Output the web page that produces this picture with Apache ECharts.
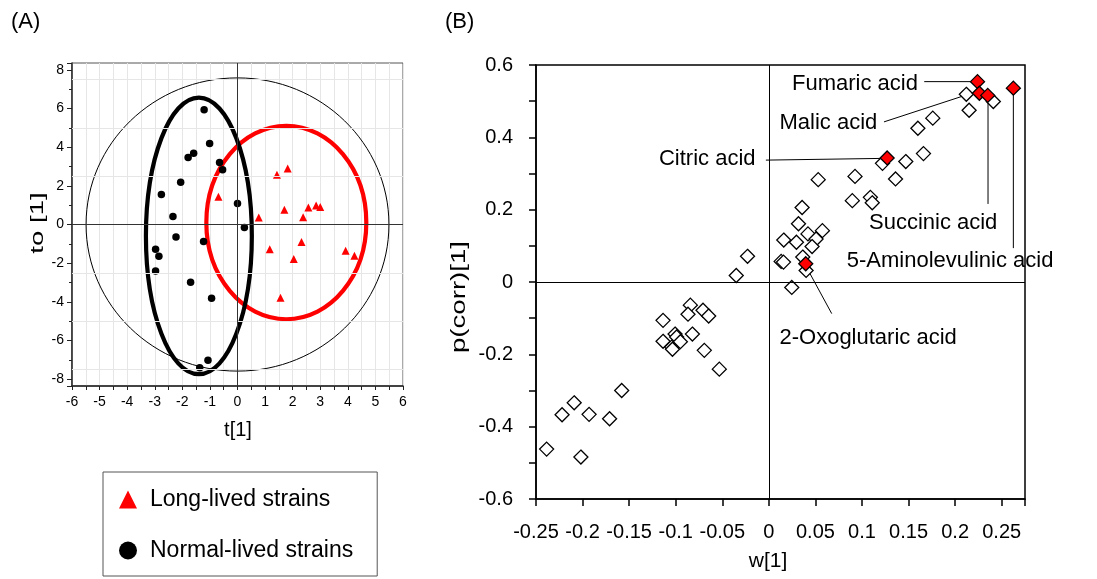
<!DOCTYPE html>
<html>
<head>
<meta charset="utf-8">
<title>OPLS-DA score plot and S-plot</title>
<script src="https://cdn.jsdelivr.net/npm/echarts@6/dist/echarts.min.js"></script>
<style>
  html, body { margin: 0; padding: 0; background: #fff; }
  #main { width: 1097px; height: 579px; }
</style>
</head>
<body>
<div id="main"></div>
<script>
  // (A) score plot, t[1] vs to[1]
  var longT = [-0.69, 0.77, 1.43, 1.82, 1.70, 2.57, 2.85, 3.00, 2.38, 1.17, 2.32, 2.04, 3.92, 4.24, 1.56];
  var longTo = [1.43, 0.36, 2.57, 2.90, 0.76, 0.88, 0.98, 0.91, 0.38, -1.28, -0.90, -1.78, -1.36, -1.62, -3.79];
  var normalT = [-1.21, -1.01, -1.79, -1.59, -0.65, -0.54, -2.06, -2.76, 0.00, -2.34, 0.25, -2.23, -1.23, -2.97, -2.85, -2.97, -1.70, -0.94, -1.07, -1.37];
  var normalTo = [5.93, 4.19, 3.47, 3.69, 3.21, 2.83, 2.19, 1.55, 1.09, 0.41, -0.16, -0.64, -0.88, -1.28, -1.64, -2.41, -2.98, -3.81, -7.02, -7.40];

  // ellipses: Hotelling T2, long-lived group, normal-lived group
  var ellipseCx = [0, 1.77, -1.40];
  var ellipseCy = [0, 0.10, -0.59];
  var ellipseRx = [5.49, 2.90, 1.92];
  var ellipseRy = [7.58, 5.00, 7.15];

  // (B) S-plot, w[1] vs p(corr)[1]
  var otherW = [0.212, 0.241, 0.215, 0.176, 0.160, 0.166, 0.147, 0.122, 0.136, 0.0925, 0.053, 0.0896, 0.109, 0.111, 0.0357,
    0.0318, 0.042, 0.0575, 0.0507, 0.016, 0.0296, 0.0464, 0.0364, 0.0132, 0.0157, 0.040, -0.0229, -0.035, 0.0246, -0.0843,
    -0.0707, -0.0646, -0.0868, -0.1136, -0.1007, -0.0990, -0.0821, -0.1136, -0.1043, -0.1035, -0.095, -0.0693, -0.0532, -0.158, -0.209,
    -0.222, -0.193, -0.171, -0.2386, -0.2018];
  var otherP = [0.519, 0.499, 0.475, 0.453, 0.425, 0.355, 0.333, 0.328, 0.285, 0.292, 0.283, 0.225, 0.234, 0.219, 0.206,
    0.161, 0.133, 0.142, 0.119, 0.116, 0.110, 0.098, 0.069, 0.057, 0.055, 0.032, 0.071, 0.018, -0.015, -0.064,
    -0.078, -0.094, -0.089, -0.106, -0.144, -0.152, -0.144, -0.164, -0.180, -0.186, -0.165, -0.189, -0.241, -0.300, -0.334,
    -0.367, -0.366, -0.378, -0.462, -0.484];

  var keyNames = ['Fumaric acid', 'Malic acid', 'Citric acid', 'Succinic acid', '5-Aminolevulinic acid', '2-Oxoglutaric acid'];
  var keyW = [0.224, 0.226, 0.127, 0.235, 0.2625, 0.0396];
  var keyP = [0.554, 0.522, 0.343, 0.516, 0.536, 0.0505];

  // where each name sits and its leader line (data units of panel B)
  var labelW = [0.160, 0.1164, -0.0143, 0.1764, 0.0836, 0.0114];
  var labelP = [0.547, 0.439, 0.340, 0.164, 0.058, -0.1535];
  var labelAlign = ['right', 'right', 'right', 'center', 'left', 'left'];
  var leaderFrom = [[0.1668, 0.554], [0.1236, 0.4427], [-0.0032, 0.337], [0.2353, 0.510], [0.2625, 0.528], [0.0429, 0.0292]];
  var leaderTo = [[0.2193, 0.554], [0.2086, 0.5143], [0.1229, 0.3418], [0.2353, 0.2158], [0.2625, 0.0937], [0.0675, -0.0874]];

  // light reference lines in panel A
  var gridLinesA = [-7.5, -5, -2.5, 2.5, 5, 7.5];

  var FONT = "'Liberation Sans', Arial, sans-serif";

  function zip(a, b) {
    return a.map(function (v, i) { return [v, b[i]]; });
  }

  function intLabel(v) {
    return Math.abs(v - Math.round(v)) < 1e-6 ? String(Math.round(v)) : '';
  }

  var ellipseColor = ['#000', '#ff0000', '#000'];
  var ellipseWidth = [1, 4.2, 4.2];

  var chart = echarts.init(document.getElementById('main'));

  var option = {
    backgroundColor: '#fff',
    animation: false,
    textStyle: { fontFamily: FONT },
    grid: [
      { left: 72, top: 63, width: 331, height: 323, show: true, borderColor: '#555', borderWidth: 1, backgroundColor: 'transparent' },
      { left: 536, top: 65, width: 489, height: 434, show: true, borderColor: '#000', borderWidth: 1.5, backgroundColor: 'transparent' }
    ],
    xAxis: [
      {
        gridIndex: 0, type: 'value', min: -6, max: 6, interval: 0.5,
        axisLine: { show: true, onZero: false, lineStyle: { color: '#222', width: 1.5 } },
        axisTick: { show: true, length: 4, lineStyle: { color: '#222' } },
        axisLabel: { fontSize: 14, color: '#000', margin: 9, fontFamily: FONT, formatter: intLabel },
        splitLine: { show: true, lineStyle: { color: '#e6e6e6', width: 1 } }
      },
      {
        gridIndex: 1, type: 'value', min: -0.25, max: 0.275, interval: 0.05,
        axisLine: { show: true, onZero: false, lineStyle: { color: '#000', width: 1.5 } },
        axisTick: { show: true, length: 7, lineStyle: { color: '#000', width: 1.5 } },
        axisLabel: {
          fontSize: 20, color: '#000', margin: 23, fontFamily: FONT,
          formatter: function (v) { return v > 0.26 ? '' : String(Math.round(v * 100) / 100); }
        },
        splitLine: { show: false }
      }
    ],
    yAxis: [
      {
        gridIndex: 0, type: 'value', min: -8.35, max: 8.35, splitNumber: 8,
        axisLine: { show: true, onZero: false, lineStyle: { color: '#222', width: 1.5 } },
        axisTick: { show: true, length: 5, lineStyle: { color: '#222' } },
        minorTick: { show: true, splitNumber: 2, length: 3, lineStyle: { color: '#222' } },
        axisLabel: { fontSize: 14, color: '#000', margin: 8, fontFamily: FONT, formatter: intLabel },
        splitLine: { show: false }
      },
      {
        gridIndex: 1, type: 'value', min: -0.6, max: 0.6, interval: 0.1,
        axisLine: { show: true, onZero: false, lineStyle: { color: '#000', width: 1.5 } },
        axisTick: { show: true, length: 7, lineStyle: { color: '#000', width: 1.5 } },
        axisLabel: {
          fontSize: 20, color: '#000', margin: 23, fontFamily: FONT,
          formatter: function (v) {
            var k = Math.round(v * 10);
            return k % 2 === 0 ? String(k / 10) : '';
          }
        },
        splitLine: { show: false }
      }
    ],
    legend: {
      orient: 'vertical',
      left: 103,
      top: 472,
      selectedMode: false,
      data: [
        { name: 'Long-lived strains', icon: 'triangle' },
        { name: 'Normal-lived strains', icon: 'circle' }
      ],
      itemWidth: 18,
      itemHeight: 18,
      itemGap: 28,
      padding: [16, 24, 14, 16],
      borderColor: '#555',
      borderWidth: 1,
      textStyle: { fontSize: 23, color: '#000', fontFamily: FONT, padding: [0, 0, 0, 8] }
    },
    graphic: [
      { type: 'text', x: 11, y: 22, style: { text: '(A)', fontSize: 22, fontFamily: FONT, fill: '#000', align: 'left', verticalAlign: 'middle' } },
      { type: 'text', x: 445, y: 22, style: { text: '(B)', fontSize: 22, fontFamily: FONT, fill: '#000', align: 'left', verticalAlign: 'middle' } },
      { type: 'text', x: 238, y: 430, style: { text: 't[1]', fontSize: 20, fontFamily: FONT, fill: '#000', align: 'center', verticalAlign: 'middle' } },
      { type: 'text', x: 38, y: 223, rotation: Math.PI / 2, scaleX: 1.45, style: { text: 'to [1]', fontSize: 19, fontFamily: FONT, fill: '#000', align: 'center', verticalAlign: 'middle' } },
      { type: 'text', x: 768, y: 561, style: { text: 'w[1]', fontSize: 21, fontFamily: FONT, fill: '#000', align: 'center', verticalAlign: 'middle' } },
      { type: 'text', x: 459, y: 297, rotation: Math.PI / 2, scaleX: 1.38, style: { text: 'p(corr)[1]', fontSize: 20, fontFamily: FONT, fill: '#000', align: 'center', verticalAlign: 'middle' } }
    ],
    series: [
      // panel A reference lines
      {
        name: 'refA', type: 'line', xAxisIndex: 0, yAxisIndex: 0, data: [], silent: true,
        markLine: {
          silent: true, symbol: 'none', label: { show: false },
          data: gridLinesA.map(function (v) {
            return { yAxis: v, lineStyle: { color: '#e6e6e6', width: 1, type: 'solid' } };
          }).concat([
            { xAxis: 0, lineStyle: { color: '#333', width: 1, type: 'solid' } },
            { yAxis: 0, lineStyle: { color: '#333', width: 1, type: 'solid' } }
          ])
        }
      },
      // panel A ellipses
      {
        name: 'ellipses', type: 'custom', xAxisIndex: 0, yAxisIndex: 0, silent: true,
        data: ellipseCx.map(function (v, i) { return [v, ellipseCy[i], ellipseRx[i], ellipseRy[i]]; }),
        renderItem: function (params, api) {
          var i = params.dataIndex;
          var c = api.coord([api.value(0), api.value(1)]);
          var s = api.size([api.value(2), api.value(3)]);
          return {
            type: 'ellipse',
            shape: { cx: c[0], cy: c[1], rx: s[0], ry: s[1] },
            style: { fill: 'none', stroke: ellipseColor[i], lineWidth: ellipseWidth[i] }
          };
        }
      },
      {
        name: 'Long-lived strains', type: 'scatter', xAxisIndex: 0, yAxisIndex: 0,
        symbol: 'triangle', symbolSize: 8,
        itemStyle: { color: '#ff0000', opacity: 1 },
        data: zip(longT, longTo)
      },
      {
        name: 'Normal-lived strains', type: 'scatter', xAxisIndex: 0, yAxisIndex: 0,
        symbol: 'circle', symbolSize: 7.5,
        itemStyle: { color: '#000', opacity: 1 },
        data: zip(normalT, normalTo)
      },
      // panel B zero lines
      {
        name: 'refB', type: 'line', xAxisIndex: 1, yAxisIndex: 1, data: [], silent: true,
        markLine: {
          silent: true, symbol: 'none', label: { show: false },
          lineStyle: { color: '#000', width: 1, type: 'solid' },
          data: [{ xAxis: 0 }, { yAxis: 0 }]
        }
      },
      {
        name: 'metabolites', type: 'scatter', xAxisIndex: 1, yAxisIndex: 1,
        symbol: 'diamond', symbolSize: 14,
        itemStyle: { color: '#fff', borderColor: '#000', borderWidth: 1.3, opacity: 1 },
        data: zip(otherW, otherP)
      },
      {
        name: 'key metabolites', type: 'scatter', xAxisIndex: 1, yAxisIndex: 1,
        symbol: 'diamond', symbolSize: 14,
        itemStyle: { color: '#ff0000', borderColor: '#000', borderWidth: 1.3, opacity: 1 },
        data: zip(keyW, keyP)
      },
      // names and leader lines
      {
        name: 'labels', type: 'custom', xAxisIndex: 1, yAxisIndex: 1, silent: true, clip: false,
        data: zip(labelW, labelP),
        renderItem: function (params, api) {
          var i = params.dataIndex;
          var a = api.coord(leaderFrom[i]);
          var b = api.coord(leaderTo[i]);
          var t = api.coord([api.value(0), api.value(1)]);
          return {
            type: 'group',
            children: [
              { type: 'line', shape: { x1: a[0], y1: a[1], x2: b[0], y2: b[1] }, style: { stroke: '#000', lineWidth: 1 } },
              {
                type: 'text', x: t[0], y: t[1],
                style: { text: keyNames[i], fontSize: 22, fontFamily: FONT, fill: '#000', align: labelAlign[i], verticalAlign: 'middle' }
              }
            ]
          };
        }
      }
    ]
  };

  chart.setOption(option);
</script>
</body>
</html>
